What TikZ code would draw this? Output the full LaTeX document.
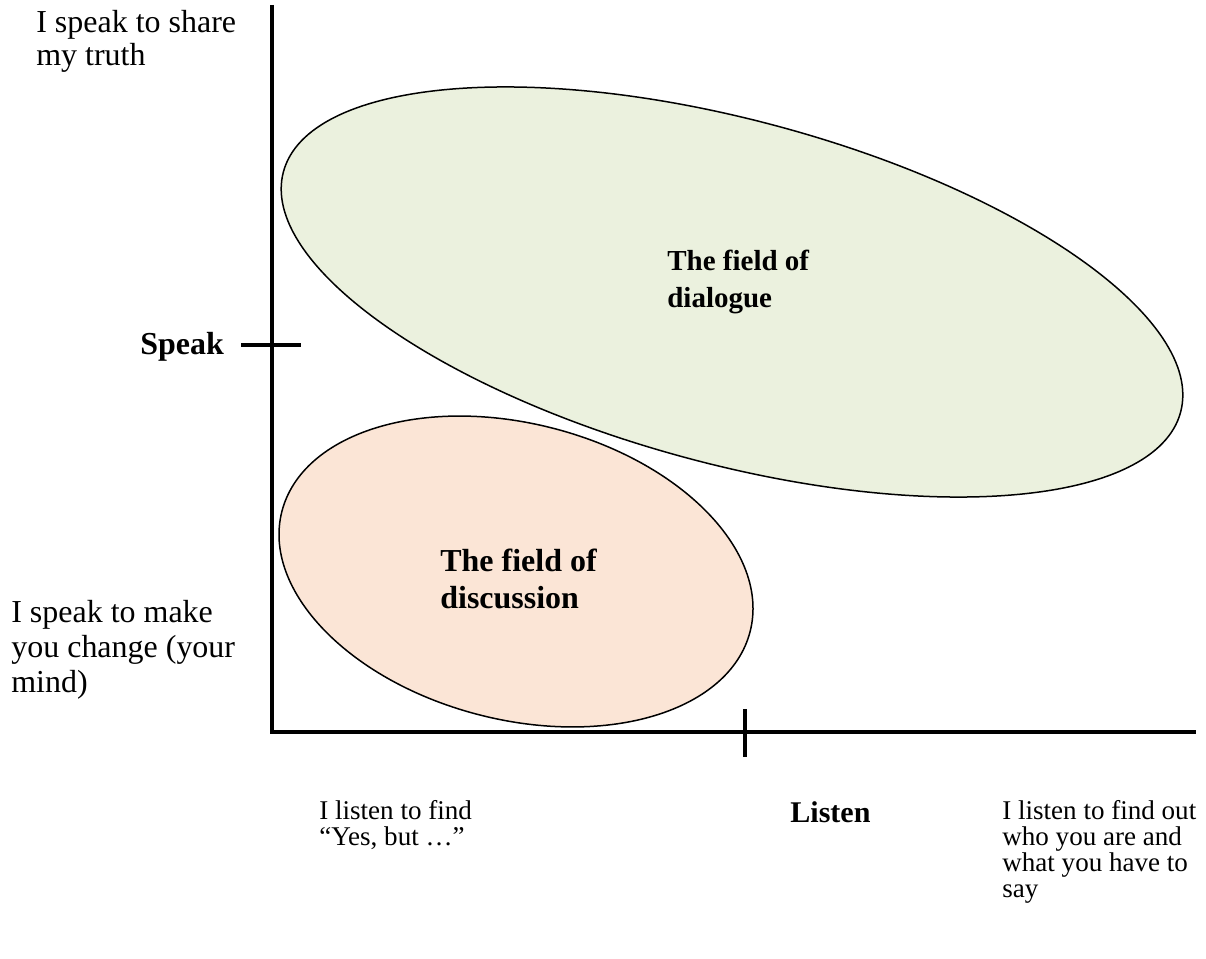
\documentclass[tikz,border=0pt]{standalone}
\usepackage{fontspec}
\setmainfont{Liberation Serif}
\usepackage{tikz}
\usetikzlibrary{shapes.geometric,positioning}
\definecolor{dialoguegreen}{HTML}{EBF1DE}
\definecolor{discussionpeach}{HTML}{FBE5D6}
\tikzset{
	axisline/.style={line width=0.09cm},
	field/.style={ellipse,draw,line width=0.03cm,inner sep=0pt},
	txt/.style={anchor=base west,inner sep=0pt,align=left,font=\fontsize{18.2}{19.9}\selectfont},
	boldtxt/.style={txt,font=\fontsize{18.2}{20.2}\selectfont\bfseries},
	smalltxt/.style={txt,font=\fontsize{15.4}{14.8}\selectfont}
}
\begin{document}
\begin{tikzpicture}[x=0.02cm,y=-0.02cm]
	\useasboundingbox (0,0) rectangle (1206,959);
	
	% the two fields
	\node[field,fill=dialoguegreen,minimum width=18.58cm,minimum height=6.88cm,rotate=-15] (dialogue) at (732,292) {};
	\node[field,fill=discussionpeach,minimum width=9.67cm,minimum height=5.92cm,rotate=-14.4] (discussion) at (516,571.5) {};
	
	\node[boldtxt,font=\fontsize{16.5}{21.6}\selectfont\bfseries] (dialoguetxt) at (667,308) {The field of\\dialogue};
	\node[boldtxt,font=\fontsize{18.2}{21}\selectfont\bfseries] (discussiontxt) at (440,608) {The field of\\discussion};
	
	% axes
	\coordinate (origin) at (272,732);
	\coordinate (ytop) at (272,5);
	\coordinate (xend) at (1196,732);
	\draw[axisline] (ytop) -- (origin) -- (xend);
	\draw[axisline] (241,345) -- (301,345);
	\draw[axisline] (745,709) -- (745,757);
	
	% speak side
	\node[txt,font=\fontsize{18.2}{18.8}\selectfont] (share) at (36,66) {I speak to share\\my truth};
	\node[boldtxt] (speak) at (140,355) {Speak};
	\node[txt] (change) at (11,692) {I speak to make\\you change (your\\mind)};
	
	% listen side
	\node[smalltxt] (yesbut) at (319,845) {I listen to find\\“Yes, but …”};
	\node[boldtxt,font=\fontsize{17.1}{20}\selectfont\bfseries] (listen) at (790,822) {Listen};
	\node[smalltxt] (findout) at (1002,897) {I listen to find out\\who you are and\\what you have to\\say};
\end{tikzpicture}
\end{document}
